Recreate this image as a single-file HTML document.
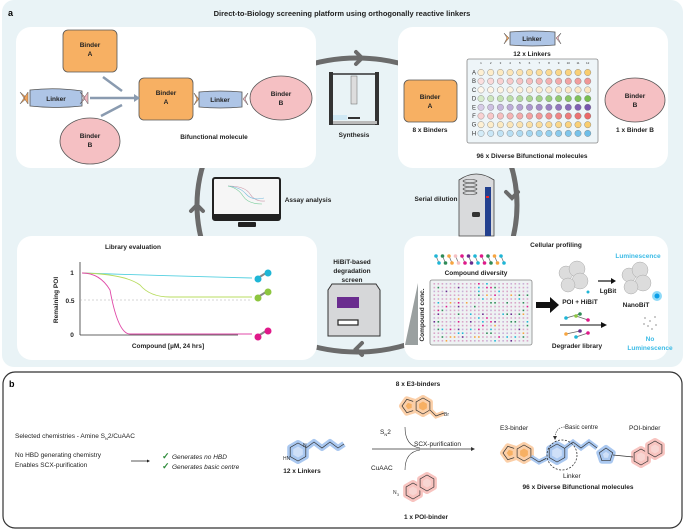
<!DOCTYPE html>
<html><head><meta charset="utf-8"><style>
html,body{margin:0;padding:0;background:#fff;}
svg{display:block;font-family:"Liberation Sans",Arial,sans-serif;}
.t{font-size:6.5px;font-weight:bold;fill:#222;text-anchor:middle;}
.s{font-size:6.5px;fill:#222;}
</style></head><body>
<svg id="sv" width="685" height="531" viewBox="0 0 685 531" xmlns="http://www.w3.org/2000/svg">
<rect x="2" y="0" width="681" height="367" rx="12" fill="#e9f3f6"/>
<text x="8" y="16" style="font-size:9px;font-weight:bold">a</text>
<text x="342" y="16" class="t" style="font-size:7.5px">Direct-to-Biology screening platform using orthogonally reactive linkers</text>
<ellipse cx="357" cy="205" rx="160" ry="147" fill="none" stroke="#6b6b6b" stroke-width="5"/>
<g fill="none" stroke="#6b6b6b" stroke-width="4" stroke-linecap="round">
<polyline points="356,52 362,58 356,64"/><polyline points="191,211 197,205 203,211"/>
<polyline points="506,192 512,198 518,192"/><polyline points="362,343 356,349 362,355"/></g>
<rect x="16" y="27" width="300" height="141" rx="15" fill="#fff"/>
<rect x="398" y="27" width="270" height="141" rx="15" fill="#fff"/>
<rect x="17" y="236" width="300" height="124" rx="15" fill="#fff"/>
<rect x="404" y="236" width="264" height="124" rx="15" fill="#fff"/>
<g stroke="#555" stroke-width="0.8">
<rect x="63" y="30" width="54" height="42" rx="5" fill="#f7b063"/>
<path d="M30,90 Q56,87 82,91 L82,106 Q56,109 30,106Z" fill="#aec5e6"/>
<ellipse cx="90" cy="141" rx="30" ry="23" fill="#f5c0c3"/>
<rect x="139" y="78" width="54" height="42" rx="5" fill="#f7b063"/>
<path d="M199,92 Q220,90 242,92 L242,107 Q220,109 199,107Z" fill="#aec5e6"/>
<ellipse cx="281" cy="98" rx="31" ry="22" fill="#f5c0c3"/>
<rect x="404" y="80" width="53" height="42" rx="5" fill="#f7b063"/>
<ellipse cx="635" cy="100" rx="30" ry="22" fill="#f5c0c3"/>
<path d="M510,32 Q532,30 555,32 L555,45 Q532,47 510,45Z" fill="#aec5e6"/>
</g>
<g fill="#f3a35a" stroke="#555" stroke-width="0.5"><polygon points="20,92 27,98 20,104 24,98"/><polygon points="28,92 24,98 28,104"/><polygon points="504,33 509,38 504,44 507,38"/><polygon points="194,93 199,99 194,105 197,99"/></g>
<g fill="#f2b6c0" stroke="#555" stroke-width="0.5"><polygon points="80,92 86,98 80,104 84,98"/><polygon points="88,92 84,98 88,104"/><polygon points="561,33 556,38 561,44 558,38"/><polygon points="248,93 243,99 248,105 245,99"/></g>
<text class="t" x="90" y="47">Binder</text><text class="t" x="90" y="56">A</text>
<text class="t" x="56" y="101">Linker</text>
<text class="t" x="90" y="138">Binder</text><text class="t" x="90" y="147">B</text>
<text class="t" x="166" y="95">Binder</text><text class="t" x="166" y="104">A</text>
<text class="t" x="220" y="102">Linker</text>
<text class="t" x="281" y="96">Binder</text><text class="t" x="281" y="105">B</text>
<text class="t" x="214" y="139">Bifunctional molecule</text>
<g stroke="#8a9bb0" stroke-width="2.5" fill="none"><line x1="103" y1="77" x2="122" y2="91"/><line x1="90" y1="98" x2="134" y2="98"/><line x1="101" y1="116" x2="122" y2="105"/></g>
<g fill="#8a9bb0"><polygon points="134,94 140,98 134,102"/></g>
<g stroke="#333" stroke-width="1.5" fill="none"><rect x="331" y="74" width="46" height="50"/></g>
<rect x="329" y="72" width="4" height="53" fill="#333"/><rect x="375" y="72" width="4" height="53" fill="#333"/>
<rect x="351" y="76" width="6" height="28" fill="#ddd" stroke="#666" stroke-width="0.5"/>
<rect x="333" y="115" width="14" height="5" fill="#cfe8f4"/><rect x="348" y="117" width="12" height="2" fill="#333"/>
<rect x="333" y="121" width="44" height="3" fill="#bbb"/>
<text class="t" x="354" y="137">Synthesis</text>
<text class="t" x="532" y="41">Linker</text>
<text class="t" x="532" y="56">12 x Linkers</text>
<rect x="467" y="59" width="131" height="84" rx="2" fill="#eef5f8" stroke="#888" stroke-width="0.8"/>
<g id="wells"></g>
<text class="t" x="430" y="99">Binder</text><text class="t" x="430" y="108">A</text>
<text class="t" x="430" y="132">8 x Binders</text>
<text class="t" x="635" y="98">Binder</text><text class="t" x="635" y="107">B</text>
<text class="t" x="635" y="132">1 x Binder B</text>
<text class="t" x="532" y="158">96 x Diverse Bifunctional molecules</text>
<rect x="213" y="178" width="67" height="42" rx="2" fill="#f6f6f6" stroke="#222" stroke-width="2"/>
<rect x="214" y="214" width="65" height="5" fill="#222"/>
<rect x="238" y="222" width="18" height="5" rx="1" fill="#222"/>
<g fill="none" stroke-width="0.6"><path d="M228,186 Q245,186 250,194 T265,201" stroke="#c9a"/><path d="M228,186 Q240,187 246,194 T264,198" stroke="#7bd"/><path d="M228,186 Q238,188 243,196 T262,204" stroke="#7c9"/></g>
<text class="t" x="308" y="202">Assay analysis</text>
<text class="t" x="436" y="201">Serial dilution</text>
<path d="M459,236 L459,180 Q476,168 494,180 L494,236Z" fill="#d9dadc" stroke="#444" stroke-width="0.8"/>
<g stroke="#444" stroke-width="0.6" fill="none"><ellipse cx="470" cy="181" rx="7" ry="1.5"/><ellipse cx="470" cy="185" rx="7" ry="1.5"/><ellipse cx="470" cy="189" rx="7" ry="1.5"/><ellipse cx="470" cy="193" rx="7" ry="1.5"/></g>
<rect x="485" y="187" width="6" height="49" fill="#23408e"/><rect x="486" y="196" width="3" height="2" fill="#e22"/>
<rect x="472" y="212" width="8" height="5" rx="1.5" fill="#333"/>
<text class="t" x="133" y="249">Library evaluation</text>
<g stroke="#333" stroke-width="0.8" fill="none"><line x1="80" y1="262" x2="80" y2="335"/><line x1="80" y1="335" x2="238" y2="335"/></g>
<line x1="80" y1="300" x2="250" y2="300" stroke="#aaa" stroke-width="0.6" stroke-dasharray="2,2"/>
<text class="t" x="72" y="275">1</text><text class="t" x="70" y="303">0.5</text><text class="t" x="72" y="337">0</text>
<text class="t" transform="translate(58,300) rotate(-90)">Remaining POI</text>
<g fill="none" stroke-width="0.9"><path d="M82,273 Q170,276 252,278" stroke="#55d0e0"/><path d="M82,273 Q125,274 140,285 Q150,297 170,297 L252,297" stroke="#b8dc60"/><path d="M82,273 Q100,273 110,290 Q118,334 130,334 L252,334" stroke="#e04aa8"/></g>
<g stroke="#888" stroke-width="2"><line x1="258" y1="278" x2="266" y2="273"/><line x1="258" y1="297" x2="266" y2="292"/><line x1="258" y1="336" x2="266" y2="331"/></g>
<circle cx="258" cy="279" r="3.5" fill="#1fb6d6"/><circle cx="268" cy="273" r="3.5" fill="#1fb6d6"/>
<circle cx="258" cy="298" r="3.5" fill="#8dc63f"/><circle cx="268" cy="292" r="3.5" fill="#8dc63f"/>
<circle cx="258" cy="337" r="3.5" fill="#e0198a"/><circle cx="268" cy="331" r="3.5" fill="#e0198a"/>
<text class="t" x="168" y="348">Compound [µM, 24 hrs]</text>
<text class="t" x="352" y="264">HiBiT-based</text><text class="t" x="352" y="273">degradation</text><text class="t" x="352" y="282">screen</text>
<path d="M328,290 L332,284 L376,284 L380,290 L380,336 L328,336Z" fill="#d6d7d9" stroke="#333" stroke-width="1"/>
<rect x="337" y="297" width="22" height="11" fill="#6a2c8f"/>
<rect x="338" y="320" width="20" height="5" fill="#fff" stroke="#222" stroke-width="1.2"/>
<text class="t" x="556" y="247">Cellular profiling</text>
<g id="beads"></g>
<text class="t" x="476" y="275">Compound diversity</text>
<polygon points="405,345 418,283 418,345" fill="#9aa0a0"/>
<text class="t" transform="translate(424,315) rotate(-90)">Compound conc.</text>
<rect x="430" y="280" width="102" height="65" rx="2" fill="#eef2f3" stroke="#888" stroke-width="0.8"/>
<g id="dots"></g>
<path d="M536,302 L550,302 L550,297 L559,305 L550,313 L550,308 L536,308Z" fill="#111"/>
<g fill="#dcdcdc" stroke="#aaa" stroke-width="0.5"><circle cx="566" cy="273" r="7"/><circle cx="577" cy="269" r="8"/><circle cx="580" cy="281" r="8"/><circle cx="568" cy="285" r="7"/>
<circle cx="629" cy="275" r="7"/><circle cx="640" cy="270" r="8"/><circle cx="643" cy="283" r="8"/><circle cx="631" cy="287" r="7"/></g>
<circle cx="588" cy="292" r="1.5" fill="#1fb6d6"/>
<circle cx="657" cy="296" r="5" fill="#1fb6f0" opacity="0.5"/><circle cx="657" cy="296" r="2.5" fill="#0a9ee8"/>
<line x1="598" y1="281" x2="612" y2="281" stroke="#111" stroke-width="1.2"/><polygon points="611,278 616,281 611,284" fill="#111"/>
<text class="t" x="608" y="293">LgBit</text>
<text class="t" x="580" y="304">POI + HiBiT</text>
<text class="t" x="636" y="307">NanoBiT</text>
<text class="t" x="638" y="258" style="fill:#3bbbe6">Luminescence</text>
<line x1="560" y1="325" x2="602" y2="325" stroke="#111" stroke-width="1"/><polygon points="601,322 607,325 601,328" fill="#111"/>
<g stroke="#666" stroke-width="0.8"><line x1="566" y1="318" x2="580" y2="314"/><line x1="576" y1="316" x2="588" y2="320"/><line x1="566" y1="334" x2="580" y2="331"/><line x1="576" y1="337" x2="588" y2="333"/></g>
<g><circle cx="566" cy="318" r="1.8" fill="#1fb6d6"/><circle cx="580" cy="314" r="1.8" fill="#2e8b57"/><circle cx="576" cy="316" r="1.8" fill="#8dc63f"/><circle cx="588" cy="320" r="1.8" fill="#e0198a"/><circle cx="566" cy="334" r="1.8" fill="#f7a540"/><circle cx="580" cy="331" r="1.8" fill="#6a2c8f"/><circle cx="576" cy="337" r="1.8" fill="#1fb6d6"/><circle cx="588" cy="333" r="1.8" fill="#e0198a"/></g>
<text class="t" x="577" y="348">Degrader library</text>
<g fill="#bbb"><circle cx="645" cy="318" r="1"/><circle cx="650" cy="321" r="1"/><circle cx="655" cy="317" r="1"/><circle cx="648" cy="326" r="1"/><circle cx="656" cy="325" r="1"/><circle cx="652" cy="329" r="1"/><circle cx="644" cy="324" r="1"/></g>
<text class="t" x="650" y="341" style="fill:#3bbbe6">No</text>
<text class="t" x="650" y="350" style="fill:#3bbbe6">Luminescence</text>
<rect x="3" y="372" width="679" height="156" rx="12" fill="#fff" stroke="#333" stroke-width="1.2"/>
<text x="9" y="387" style="font-size:9px;font-weight:bold">b</text>
<text class="s" x="15" y="438">Selected chemistries - Amine S<tspan style="font-size:4px" dy="2">N</tspan><tspan dy="-2">2/CuAAC</tspan></text>
<text class="s" x="15" y="457">No HBD generating chemistry</text>
<text class="s" x="15" y="467">Enables SCX-purification</text>
<line x1="131" y1="461" x2="148" y2="461" stroke="#222" stroke-width="0.7"/><polygon points="147,459.5 150,461 147,462.5" fill="#222"/>
<text x="162" y="459" style="font-size:9px;fill:#2e8b3a;font-weight:bold">✓</text><text class="s" x="172" y="459" style="font-style:italic">Generates no HBD</text>
<text x="162" y="469" style="font-size:9px;fill:#2e8b3a;font-weight:bold">✓</text><text class="s" x="172" y="469" style="font-style:italic">Generates basic centre</text>
<g id="chem"></g>
<text class="t" x="302" y="473">12 x Linkers</text>
<text class="t" x="418" y="386">8 x E3-binders</text>
<text class="s" x="380" y="434">S<tspan style="font-size:4px" dy="2">N</tspan><tspan dy="-2">2</tspan></text>
<text class="s" x="371" y="470">CuAAC</text>
<text class="s" x="414" y="446">SCX-purification</text>
<line x1="372" y1="449" x2="472" y2="449" stroke="#333" stroke-width="0.7"/><polygon points="471,447 475,449 471,451" fill="#333"/>
<path d="M405,427 Q405,446 420,448" fill="none" stroke="#333" stroke-width="0.6"/>
<path d="M405,470 Q405,452 420,450" fill="none" stroke="#333" stroke-width="0.6"/>
<text class="t" x="426" y="519">1 x POI-binder</text>
<text class="s" x="500" y="430">E3-binder</text>
<text class="s" x="565" y="429" style="font-size:6px">Basic centre</text>
<text class="s" x="629" y="430">POI-binder</text>
<text class="s" x="563" y="478">Linker</text>
<text class="t" x="578" y="489">96 x Diverse Bifunctional molecules</text>
</svg>
<script>
var NS="http://www.w3.org/2000/svg";
function el(p,t,a,txt){var e=document.createElementNS(NS,t);for(var k in a)e.setAttribute(k,a[k]);if(txt)e.textContent=txt;p.appendChild(e);return e;}
var W=document.getElementById("wells");
var rows="ABCDEFGH",cols=[[249,205,110],[240,150,150],[251,228,190],[120,190,80],[120,85,175],[235,105,105],[249,205,110],[110,190,232]];
for(var c=0;c<12;c++){el(W,"text",{x:481+c*9.7,y:64,"font-size":"3px","text-anchor":"middle",fill:"#333"},String(c+1));}
for(var r=0;r<8;r++){el(W,"text",{x:474,y:74.5+r*8.7,"font-size":"6px","text-anchor":"middle",fill:"#333"},rows[r]);
for(var c=0;c<12;c++){var f=c/11,col=cols[r];var k=0.3+0.7*f;var rr=Math.round(255-(255-col[0])*k),g=Math.round(255-(255-col[1])*k),b=Math.round(255-(255-col[2])*k);
el(W,"circle",{cx:481+c*9.7,cy:72.5+r*8.7,r:3.2,fill:"rgb("+rr+","+g+","+b+")",stroke:"#777","stroke-width":0.4});}}
var B=document.getElementById("beads"),bc=["#1fb6d6","#2e8b57","#f7a540","#f5c0c3","#e0198a","#6a2c8f","#1fb6d6","#e0198a","#2e8b57","#f7a540","#1fb6d6"];
for(var i=0;i<11;i++){var x=436+i*6.5;el(B,"line",{x1:x,y1:256,x2:x+3,y2:263,stroke:"#777","stroke-width":0.8});el(B,"circle",{cx:x,cy:256,r:1.8,fill:bc[i]});el(B,"circle",{cx:x+3,cy:263,r:1.8,fill:bc[i]});}
var D=document.getElementById("dots"),dc=["#d9a6c9","#d9a6c9","#d9a6c9","#c9b0d8","#1fb6d6","#6a2c8f","#f7a540","#2e8b57","#e0198a"],s=7;
function rnd(){s=(s*9301+49297)%233280;return s/233280;}
for(var y=0;y<16;y++)for(var x=0;x<24;x++){var v=rnd();var ci=v<0.72?Math.floor(rnd()*4):4+Math.floor(rnd()*5);el(D,"rect",{x:433.5+x*4.05,y:283+y*3.8,width:1.6,height:1.6,fill:dc[ci]});}
var C=document.getElementById("chem");
function hex(cx,cy,r,rot){var p=[];for(var i=0;i<6;i++){var a=(rot+60*i)*Math.PI/180;p.push((cx+r*Math.cos(a)).toFixed(1)+","+(cy+r*Math.sin(a)).toFixed(1));}return p.join(" ");}
function pent(cx,cy,r,rot){var p=[];for(var i=0;i<5;i++){var a=(rot+72*i)*Math.PI/180;p.push((cx+r*Math.cos(a)).toFixed(1)+","+(cy+r*Math.sin(a)).toFixed(1));}return p.join(" ");}
function ring(pts,halo,fill){el(C,"polygon",{points:pts,fill:fill,stroke:halo,"stroke-width":6,"stroke-linejoin":"round"});el(C,"polygon",{points:pts,fill:"none",stroke:"#333","stroke-width":0.7});}
var O="#fbcfa8",OF="#f7b063",P="#f8c4c0",PF="#f8d6d3",Bl="#aac8f0";
ring(pent(409,406,7,180),O,OF);ring(hex(423,406,8,30),O,OF);
el(C,"polyline",{points:"430,410 436,416 444,413",fill:"none",stroke:O,"stroke-width":5});el(C,"polyline",{points:"430,410 436,416 444,413",fill:"none",stroke:"#333","stroke-width":0.7});
el(C,"text",{x:444,y:416,"font-size":"5px",fill:"#333"},"Br");
ring(hex(413,491,8,30),P,PF);ring(hex(427,483,8,30),P,PF);
el(C,"text",{x:393,y:494,"font-size":"5px",fill:"#333"},"N");el(C,"text",{x:397,y:496,"font-size":"3.5px",fill:"#333"},"3");
el(C,"polyline",{points:"306,448 314,442 322,448 330,442 338,448 344,444",fill:"none",stroke:Bl,"stroke-width":6,"stroke-linejoin":"round"});
ring(hex(298,452,9,90),Bl,"#cfe0f8");
el(C,"polyline",{points:"306,448 314,442 322,448 330,442 338,448 344,444",fill:"none",stroke:"#333","stroke-width":0.7});
el(C,"text",{x:283,y:460,"font-size":"5px",fill:"#333"},"HN");el(C,"text",{x:303,y:447,"font-size":"5px",fill:"#333"},"N");
ring(pent(510,453,7,180),O,OF);ring(hex(524,453,8,30),O,OF);
el(C,"polyline",{points:"531,457 539,462 547,458",fill:"none",stroke:Bl,"stroke-width":5});el(C,"polyline",{points:"531,457 539,462 547,458",fill:"none",stroke:"#333","stroke-width":0.7});
ring(hex(557,453,9,90),Bl,"#cfe0f8");
el(C,"polyline",{points:"565,448 573,442 581,448 589,442 597,448",fill:"none",stroke:Bl,"stroke-width":5});el(C,"polyline",{points:"565,448 573,442 581,448 589,442 597,448",fill:"none",stroke:"#333","stroke-width":0.7});
ring(pent(606,455,7,198),Bl,"#cfe0f8");
ring(hex(641,457,8,30),P,PF);ring(hex(655,449,8,30),P,PF);
el(C,"line",{x1:613,y1:455,x2:633,y2:457,stroke:"#333","stroke-width":0.7});
el(C,"ellipse",{cx:562,cy:455,rx:15,ry:15,fill:"none",stroke:"#333","stroke-width":0.8,"stroke-dasharray":"2,1.5"});
el(C,"path",{d:"M565,427 Q556,427 555,437",fill:"none",stroke:"#333","stroke-width":0.6,"stroke-dasharray":"1.5,1"});
el(C,"polygon",{points:"553,436 555,440 557,436",fill:"#333"});
</script>
</body></html>
